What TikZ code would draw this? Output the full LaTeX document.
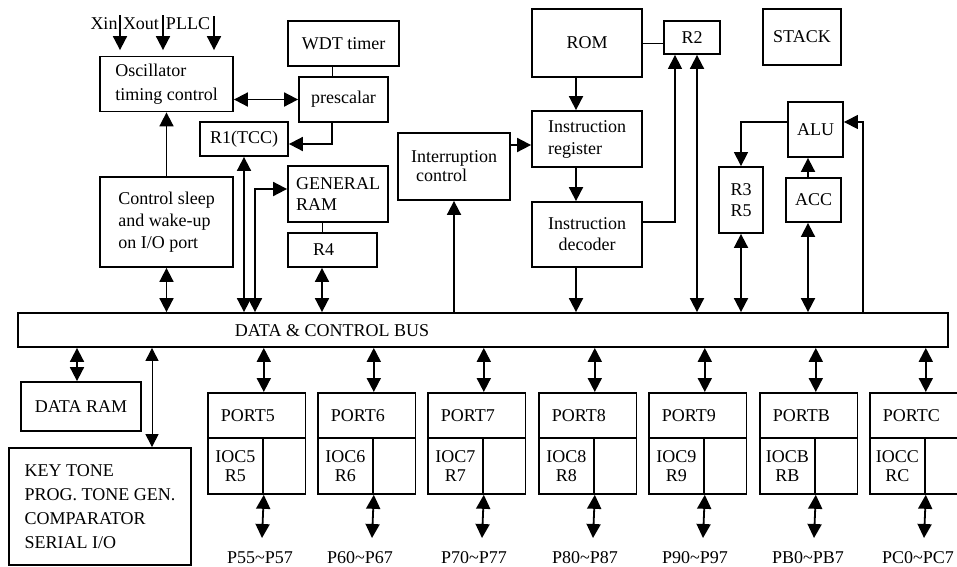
\documentclass[tikz,border=0pt]{standalone}
\usepackage{fontspec}
\setmainfont{Liberation Serif}
\usetikzlibrary{arrows.meta}
\newcommand\boxfont{\fontsize{18}{23}\selectfont}
\begin{document}
\begin{tikzpicture}[x=1pt,y=-1pt,
  box/.style={draw, line width=1.8pt, inner sep=0pt, font=\boxfont},
  conn/.style={line width=1.8pt},
  arr/.style={conn, -{Triangle[length=14pt,width=14pt]}},
  dbl/.style={conn, {Triangle[length=14pt,width=14pt]}-{Triangle[length=14pt,width=14pt]}},
  thinline/.style={line width=1pt},
  thindbl/.style={line width=1pt, {Triangle[length=13pt,width=13pt]}-{Triangle[length=13pt,width=13pt]}},
  txt/.style={inner sep=0pt, font=\boxfont},
  spacing/.style={font=\fontsize{18}{#1}\selectfont}
]
\useasboundingbox (0,0) rectangle (957,566);

% ---------- clock and timer blocks ----------
\node[box, minimum width=133, minimum height=55, align=left, spacing=24] (osc) at (166.5,84) {Oscillator\\timing control};
\node[box, minimum width=111, minimum height=45] (wdt) at (343.5,43.5) {WDT timer};
\node[box, minimum width=89, minimum height=45] (pre) at (343.5,99.5) {prescalar};
\node[box, minimum width=88, minimum height=34] (r1) at (244,139) {R1(TCC)};
\node[box, minimum width=133, minimum height=90, align=left, spacing=22] (ctl) at (166.5,222) {Control sleep\\and wake-up\\on I/O port};
\node[box, minimum width=100, minimum height=56, align=left, spacing=21] (genram) at (338,194) {GENERAL\\RAM};
\node[box, minimum height=34, text width=39pt, inner xsep=25pt, align=left] (r4) at (332.5,250) {R4};
\node[box, minimum width=112, minimum height=67, align=left, spacing=19] (intr) at (454,166.5) {Interruption\\\hspace*{5pt}control};

% ---------- program flow ----------
\node[box, minimum width=110, minimum height=68] (rom) at (587,43) {ROM};
\node[box, minimum width=110, minimum height=56, align=left, spacing=22] (ir) at (587,139) {Instruction\\register};
\node[box, minimum width=110, minimum height=65, align=center, spacing=21] (dec) at (587,234.5) {Instruction\\decoder};
\node[box, minimum width=56, minimum height=33] (r2) at (692,37.5) {R2};
\node[box, minimum width=78, minimum height=56] (stack) at (802,37) {STACK};

% ---------- arithmetic ----------
\node[box, minimum width=55, minimum height=55] (alu) at (815.5,129.5) {ALU};
\node[box, minimum width=44, minimum height=66, align=center, spacing=21] (r35) at (741,200) {R3\\R5};
\node[box, minimum width=55, minimum height=44] (acc) at (813.5,200) {ACC};

% ---------- bus ----------
\node[box, minimum width=930, minimum height=34] (bus) at (483,330) {};
\node[txt] (buslabel) at (332,331) {DATA \& CONTROL BUS};

\node[box, minimum width=120, minimum height=49] (dataram) at (81,406.5) {DATA RAM};
\node[box, minimum width=182, minimum height=117, align=left, spacing=24] (key) at (100,506.5) {KEY TONE\\PROG. TONE GEN.\\COMPARATOR\\SERIAL I/O};

% ---------- oscillator inputs ----------
\node[txt] (xin) at (104,24) {Xin};
\node[txt] (xout) at (141,24) {Xout};
\node[txt] (pllc) at (188,24) {PLLC};
\coordinate (xin-top) at (120,15);
\coordinate (xout-top) at (163,15);
\coordinate (pllc-top) at (214,16);
\foreach \c in {xin-top,xout-top,pllc-top}
  \draw[arr, shorten >=5.5pt] (\c) -- (osc.north -| \c);

% ---------- guide coordinates ----------
\coordinate (x-pre) at (332,0);
\coordinate (y-r1) at (0,144);
\coordinate (x-gen) at (255,0);
\coordinate (y-gen) at (0,189);
\coordinate (x-r4) at (322,0);
\coordinate (y-ir) at (0,145);
\coordinate (x-ins) at (576,0);
\coordinate (y-dec) at (0,222);
\coordinate (x-r2a) at (675,0);
\coordinate (x-r2b) at (697,0);
\coordinate (y-alu) at (0,122);
\coordinate (x-acc) at (808,0);
\coordinate (x-alu) at (863,0);
\coordinate (x-dr) at (77,0);
\coordinate (x-key) at (152,0);

% ---------- connectors above the bus ----------
\draw[dbl] (osc.east |- pre.west) -- (pre.west);
\draw[thinline] (wdt.south -| x-pre) -- (pre.north -| x-pre);
\draw[arr] (pre.south -| x-pre) |- (r1.east |- y-r1);
\draw[arr] (ctl.north) -- (osc.south);
\draw[dbl] (ctl.south) -- (bus.north -| ctl.south);
\draw[dbl] (bus.north -| r1.south) -- (r1.south);
\draw[dbl] (bus.north -| x-gen) |- (genram.west |- y-gen);
\draw[thinline] (genram.south -| x-r4) -- (r4.north -| x-r4);
\draw[dbl] (r4.south -| x-r4) -- (bus.north -| x-r4);
\draw[arr] (bus.north -| intr.south) -- (intr.south);
\draw[arr] (intr.east |- y-ir) -- (ir.west |- y-ir);
\draw[thinline] (rom.east) -- (r2.west |- rom.east);
\draw[arr] (rom.south -| x-ins) -- (ir.north -| x-ins);
\draw[arr] (ir.south -| x-ins) -- (dec.north -| x-ins);
\draw[arr] (dec.south -| x-ins) -- (bus.north -| x-ins);
\draw[arr, line width=1.3pt] (dec.east |- y-dec) -| (r2.south -| x-r2a);
\draw[dbl] (bus.north -| x-r2b) -- (r2.south -| x-r2b);
\draw[arr, line width=1.2pt] (alu.west |- y-alu) -| (r35.north);
\draw[dbl] (r35.south) -- (bus.north -| r35.south);
\draw[arr] (acc.north -| x-acc) -- (alu.south -| x-acc);
\draw[dbl] (acc.south -| x-acc) -- (bus.north -| x-acc);
\draw[arr, line width=1.2pt] (bus.north -| x-alu) |- (alu.east |- y-alu);

% ---------- below the bus ----------
\draw[dbl] (bus.south -| x-dr) -- (dataram.north -| x-dr);
\draw[thindbl] (bus.south -| x-key) -- (key.north -| x-key);

% ---------- I/O ports ----------
\foreach \s/\lx/\px/\pins in {5/207/260/P55\textasciitilde P57, 6/317/360/P60\textasciitilde P67,
    7/427/474/P70\textasciitilde P77, 8/538/585/P80\textasciitilde P87, 9/648/695/P90\textasciitilde P97,
    B/759/808/PB0\textasciitilde PB7, C/869/918/PC0\textasciitilde PC7}
{
  \node[box, minimum height=45, text width=71.5pt, inner xsep=13pt, align=left, anchor=north west] (pt\s) at (\lx,392) {PORT\s};
  \node[box, minimum width=55, minimum height=56, align=center, anchor=north west, spacing=18.5] (pl\s) at (\lx,437) {IOC\s\\R\s};
  \node[box, minimum width=42.5, minimum height=56, anchor=north west] (pr\s) at (\lx+55,437) {};
  \draw[dbl] (bus.south -| pl\s.east) -- (pt\s.north -| pl\s.east);
  \coordinate (pe\s) at (\lx+55,538);
  \draw[dbl] (pl\s.south east) -- (pe\s);
  \node[txt] (pin\s) at (\px,558) {\pins};
}
\end{tikzpicture}
\end{document}
